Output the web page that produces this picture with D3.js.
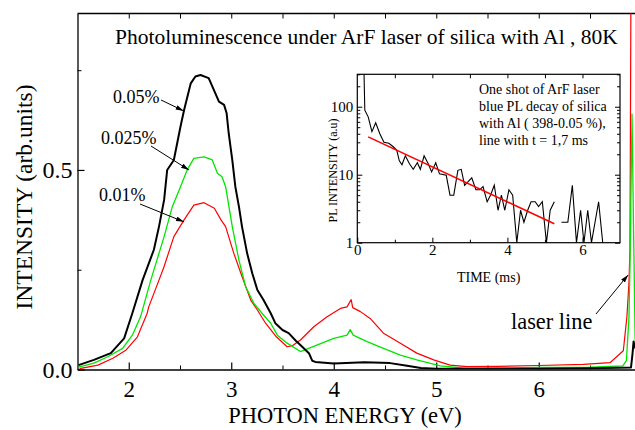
<!DOCTYPE html>
<html>
<head>
<meta charset="utf-8">
<script src="https://cdn.jsdelivr.net/npm/d3@7"></script>
<style>
  body { margin: 0; background: #fff; }
  svg, svg text { font-family: "Liberation Serif", "Times New Roman", serif; }
  svg { display: block; }
</style>
</head>
<body>
<svg id="chart" width="635" height="430"></svg>
<script>
// main spectra, photon energy (eV) / intensity (arb. units)
const blackE = [1.51, 1.66, 1.825, 1.955, 2.035, 2.135, 2.245, 2.295, 2.345, 2.375, 2.44, 2.505, 2.54, 2.605, 2.65, 2.70, 2.78, 2.845, 2.88, 2.93, 2.955, 2.975, 3.01, 3.04, 3.075, 3.105, 3.155, 3.205, 3.255, 3.315, 3.385, 3.43, 3.50, 3.56, 3.63, 3.70, 3.76, 3.79, 3.82, 4.00, 4.30, 4.55, 4.70, 4.85, 5.00, 5.50, 6.00, 6.50, 6.90, 6.915, 6.925, 6.94, 6.97];
const blackI = [0.011, 0.024, 0.041, 0.078, 0.141, 0.224, 0.300, 0.358, 0.425, 0.500, 0.525, 0.609, 0.650, 0.717, 0.734, 0.738, 0.730, 0.692, 0.671, 0.663, 0.642, 0.592, 0.525, 0.458, 0.408, 0.358, 0.291, 0.241, 0.199, 0.174, 0.141, 0.116, 0.099, 0.091, 0.072, 0.055, 0.040, 0.022, 0.019, 0.015, 0.018, 0.016, 0.010, 0.004, 0.002, 0.002, 0.002, 0.003, 0.005, 0.040, 0.070, 0.055, 0.040];

const greenE = [1.51, 1.66, 1.795, 1.94, 2.035, 2.115, 2.215, 2.345, 2.425, 2.505, 2.57, 2.635, 2.735, 2.815, 2.865, 2.91, 2.945, 3.01, 3.075, 3.14, 3.22, 3.30, 3.385, 3.45, 3.545, 3.675, 3.835, 4.00, 4.13, 4.16, 4.19, 4.325, 4.485, 4.65, 4.81, 5.04, 5.30, 5.60, 6.00, 6.50, 6.82, 6.855, 6.88, 6.89, 6.91, 6.925, 6.94, 6.955];
const greenI = [0.006, 0.016, 0.032, 0.053, 0.086, 0.132, 0.224, 0.333, 0.408, 0.458, 0.500, 0.529, 0.533, 0.525, 0.492, 0.483, 0.458, 0.358, 0.274, 0.208, 0.166, 0.141, 0.116, 0.086, 0.066, 0.045, 0.061, 0.078, 0.086, 0.100, 0.086, 0.070, 0.053, 0.036, 0.024, 0.009, 0.003, 0.004, 0.005, 0.006, 0.009, 0.022, 0.130, 0.260, 0.640, 0.350, 0.080, 0.010];

const redE = [1.52, 1.70, 1.845, 1.975, 2.085, 2.18, 2.195, 2.295, 2.345, 2.44, 2.54, 2.635, 2.735, 2.835, 2.90, 2.945, 3.025, 3.105, 3.19, 3.255, 3.335, 3.44, 3.545, 3.60, 3.675, 3.805, 3.935, 4.065, 4.13, 4.17, 4.185, 4.26, 4.355, 4.485, 4.65, 4.81, 4.975, 5.135, 5.30, 5.60, 6.00, 6.435, 6.695, 6.825, 6.86, 6.88, 6.89, 6.90, 6.95, 7.00];
const redI = [0.002, 0.011, 0.028, 0.049, 0.082, 0.141, 0.157, 0.224, 0.258, 0.333, 0.375, 0.412, 0.418, 0.404, 0.375, 0.358, 0.291, 0.233, 0.174, 0.149, 0.116, 0.082, 0.057, 0.060, 0.074, 0.107, 0.132, 0.153, 0.157, 0.175, 0.155, 0.145, 0.128, 0.091, 0.066, 0.041, 0.024, 0.011, 0.007, 0.008, 0.010, 0.013, 0.017, 0.047, 0.132, 0.216, 0.300, 1.000, 1.200, 1.200];

// inset: PL decay after one ArF shot, time (ms) / PL intensity (a.u)
const decayT = [0.16, 0.20, 0.29, 0.39, 0.49, 0.60, 0.71, 0.84, 0.95, 1.05, 1.12, 1.19, 1.28, 1.39, 1.49, 1.60, 1.68, 1.78, 1.89, 1.98, 2.09, 2.19, 2.37, 2.47, 2.57, 2.68, 2.77, 2.86, 2.96, 3.05, 3.16, 3.26, 3.35, 3.46, 3.55, 3.65, 3.75, 3.84, 3.93, 4.04, 4.14, 4.25, 4.35, 4.44, 4.54, 4.63, 4.74, 4.83, 4.93, 5.04, 5.14, 5.25, 5.35, 5.44, 5.61, 5.73, 5.84, 5.95, 6.04, 6.14, 6.24, 6.43, 6.54];
const decayV = [1000, 89, 71, 43, 58, 40, 30, 29, 26, 23, 16, 14, 19, 14.5, 12, 15, 12, 19, 14.5, 11, 15, 10.3, 9.8, 5, 5, 11.6, 12, 7, 8, 9, 6, 6, 6.7, 4, 5, 7, 3, 5, 3, 6, 5, 1, 3, 2, 3, 4, 4, 3.4, 4, 1, 3, 4, null, 2, 2, 7, 1, 3, 1, 3, 1, 4, 1];
const fitT = [0.29, 5.25];
const fitV = [36, 1.9];

const FONT = "Liberation Serif, Times New Roman, serif";
const svg = d3.select("#chart").attr("font-family", FONT);
const W = 635;

const x = d3.scaleLinear().domain([1.5, 7]).range([77.5, 641.25]);
const y = d3.scaleLinear().domain([0, 0.892]).range([369.5, 13.5]);

const defs = svg.append("defs");
defs.append("clipPath").attr("id", "plotclip")
  .append("rect").attr("x", x(1.5)).attr("y", y(0.892)).attr("width", W - x(1.5)).attr("height", y(0) - y(0.892));

const marker = defs.append("marker")
  .attr("id", "arrow").attr("viewBox", "0 0 10 6").attr("refX", 10).attr("refY", 3)
  .attr("markerWidth", 8).attr("markerHeight", 5).attr("markerUnits", "userSpaceOnUse")
  .attr("orient", "auto");
marker.append("path").attr("d", "M0,0 L10,3 L0,6 Z").attr("fill", "#000");

// top frame line
svg.append("line").attr("x1", x(1.5)).attr("x2", W).attr("y1", y(0.892)).attr("y2", y(0.892))
  .attr("stroke", "#000").attr("stroke-width", 1.3);

function styleAxis(g, size) {
  g.attr("font-family", FONT).attr("font-size", size);
  g.selectAll("path.domain").attr("stroke-width", 1.3);
  g.selectAll(".tick line").attr("stroke-width", 1.2);
}

// bottom axis
svg.append("g").attr("transform", `translate(0,${y(0)})`)
  .call(d3.axisBottom(x).tickValues([2, 3, 4, 5, 6]).tickFormat(d3.format("d")).tickSize(-7).tickSizeOuter(0).tickPadding(11))
  .call(g => styleAxis(g, 23));
svg.append("g").attr("transform", `translate(0,${y(0)})`)
  .call(d3.axisBottom(x).tickValues([2.5, 3.5, 4.5, 5.5, 6.5]).tickFormat("").tickSize(-4).tickSizeOuter(0))
  .call(g => g.select(".domain").remove());
// top ticks
svg.append("g").attr("transform", `translate(0,${y(0.892)})`)
  .call(d3.axisTop(x).tickValues([2, 2.5, 3, 3.5, 4, 4.5, 5, 5.5, 6, 6.5]).tickFormat("").tickSize(-5).tickSizeOuter(0))
  .call(g => g.select(".domain").remove());

// left axis
svg.append("g").attr("transform", `translate(${x(1.5)},0)`)
  .call(d3.axisLeft(y).tickValues([0, 0.5]).tickFormat(d3.format(".1f")).tickSize(-7).tickSizeOuter(0).tickPadding(5))
  .call(g => styleAxis(g, 24));
svg.append("g").attr("transform", `translate(${x(1.5)},0)`)
  .call(d3.axisLeft(y).tickValues([0.25, 0.75]).tickFormat("").tickSize(-4).tickSizeOuter(0))
  .call(g => g.select(".domain").remove());

// curves
const plot = svg.append("g").attr("clip-path", "url(#plotclip)");
const line = d3.line().x(d => x(d[0])).y(d => y(d[1]));
const series = [
  { E: redE, I: redI, color: "#ff0000", w: 1.2 },
  { E: greenE, I: greenI, color: "#00e600", w: 1.3 },
  { E: blackE, I: blackI, color: "#000000", w: 2 }
];
series.forEach(s => {
  plot.append("path").datum(d3.zip(s.E, s.I))
    .attr("fill", "none").attr("stroke", s.color).attr("stroke-width", s.w)
    .attr("stroke-linejoin", "round").attr("d", line);
});

// title
svg.append("text").attr("x", 115).attr("y", 44).attr("font-size", 21.5)
  .text("Photoluminescence under ArF laser of silica with Al , 80K");

// axis titles
svg.append("text").attr("x", 345).attr("y", 423).attr("text-anchor", "middle").attr("font-size", 22.5)
  .text("PHOTON ENERGY (eV)");
svg.append("text").attr("transform", "translate(32,197) rotate(-90)").attr("text-anchor", "middle").attr("font-size", 23.5)
  .text("INTENSITY (arb.units)");

// annotations
const notes = [
  { label: "0.05%", tx: 113, ty: 103, ax: 161, ay: 100, e: 2.536, v: 0.648 },
  { label: "0.025%", tx: 101, ty: 144, ax: 151, ay: 146, e: 2.587, v: 0.50 },
  { label: "0.01%", tx: 99, ty: 201, ax: 140, ay: 204, e: 2.538, v: 0.37 }
];
notes.forEach(n => {
  svg.append("text").attr("x", n.tx).attr("y", n.ty).attr("font-size", 18).text(n.label);
  svg.append("line").attr("x1", n.ax).attr("y1", n.ay).attr("x2", x(n.e)).attr("y2", y(n.v))
    .attr("stroke", "#000").attr("stroke-width", 1).attr("marker-end", "url(#arrow)");
});
svg.append("text").attr("x", 511).attr("y", 329).attr("font-size", 22.4).text("laser line");
svg.append("line").attr("x1", 596).attr("y1", 314).attr("x2", x(6.872)).attr("y2", y(0.237))
  .attr("stroke", "#000").attr("stroke-width", 1).attr("marker-end", "url(#arrow)");

// ---- inset ----
const xi = d3.scaleLinear().domain([0, 7]).range([357.3, 620]);
const yi = d3.scaleLog().domain([1, 300]).range([242.7, 74.3]);

defs.append("clipPath").attr("id", "insetclip")
  .append("rect").attr("x", xi(0)).attr("y", yi(300)).attr("width", xi(7) - xi(0)).attr("height", yi(1) - yi(300));

svg.append("rect").attr("x", xi(0)).attr("y", yi(300)).attr("width", xi(7) - xi(0)).attr("height", yi(1) - yi(300))
  .attr("fill", "#fff").attr("stroke", "#000").attr("stroke-width", 1.2);

const inset = svg.append("g").attr("clip-path", "url(#insetclip)");
inset.append("path").datum(d3.zip(decayT, decayV))
  .attr("fill", "none").attr("stroke", "#000").attr("stroke-width", 1.1)
  .attr("d", d3.line().defined(d => d[1] !== null).x(d => xi(d[0])).y(d => yi(Math.max(1, d[1]))));
inset.append("path").datum(d3.zip(fitT, fitV))
  .attr("fill", "none").attr("stroke", "#ff0000").attr("stroke-width", 1.6)
  .attr("d", d3.line().x(d => xi(d[0])).y(d => yi(d[1])));

const minorLog = [2, 3, 4, 5, 6, 7, 8, 9, 20, 30, 40, 50, 60, 70, 80, 90, 200, 300];
svg.append("g").attr("transform", `translate(${xi(0)},0)`)
  .call(d3.axisLeft(yi).tickValues([1, 10, 100]).tickFormat(d3.format("d")).tickSize(-5).tickSizeOuter(0).tickPadding(4))
  .call(g => { g.attr("font-family", FONT).attr("font-size", 15); g.select(".domain").remove(); });
svg.append("g").attr("transform", `translate(${xi(0)},0)`)
  .call(d3.axisLeft(yi).tickValues(minorLog).tickFormat("").tickSize(-3).tickSizeOuter(0))
  .call(g => g.select(".domain").remove());
svg.append("g").attr("transform", `translate(${xi(7)},0)`)
  .call(d3.axisRight(yi).tickValues([1, 10, 100]).tickFormat("").tickSize(-5).tickSizeOuter(0))
  .call(g => g.select(".domain").remove());
svg.append("g").attr("transform", `translate(${xi(7)},0)`)
  .call(d3.axisRight(yi).tickValues(minorLog).tickFormat("").tickSize(-3).tickSizeOuter(0))
  .call(g => g.select(".domain").remove());
svg.append("g").attr("transform", `translate(0,${yi(1)})`)
  .call(d3.axisBottom(xi).tickValues([0, 2, 4, 6]).tickFormat(d3.format("d")).tickSize(-5).tickSizeOuter(0).tickPadding(2))
  .call(g => { g.attr("font-family", FONT).attr("font-size", 15); g.select(".domain").remove(); });
svg.append("g").attr("transform", `translate(0,${yi(1)})`)
  .call(d3.axisBottom(xi).tickValues([1, 3, 5]).tickFormat("").tickSize(-3).tickSizeOuter(0))
  .call(g => g.select(".domain").remove());
svg.append("g").attr("transform", `translate(0,${yi(300)})`)
  .call(d3.axisTop(xi).tickValues([1, 2, 3, 4, 5, 6]).tickFormat("").tickSize(-4).tickSizeOuter(0))
  .call(g => g.select(".domain").remove());

svg.append("text").attr("x", xi(3.5)).attr("y", 282).attr("text-anchor", "middle").attr("font-size", 14)
  .text("TIME (ms)");
svg.append("text").attr("transform", `translate(337,${(yi(1) + yi(300)) / 2 + 12}) rotate(-90)`)
  .attr("text-anchor", "middle").attr("font-size", 12).text("PL INTENSITY (a.u)");

const noteLines = ["One shot of ArF laser", "blue PL decay of silica", "with Al ( 398-0.05 %),", "line with t = 1,7 ms"];
svg.append("g").selectAll("text").data(noteLines).join("text")
  .attr("x", 479).attr("y", (d, i) => 94 + i * 17).attr("font-size", 14).text(d => d);
</script>
</body>
</html>
